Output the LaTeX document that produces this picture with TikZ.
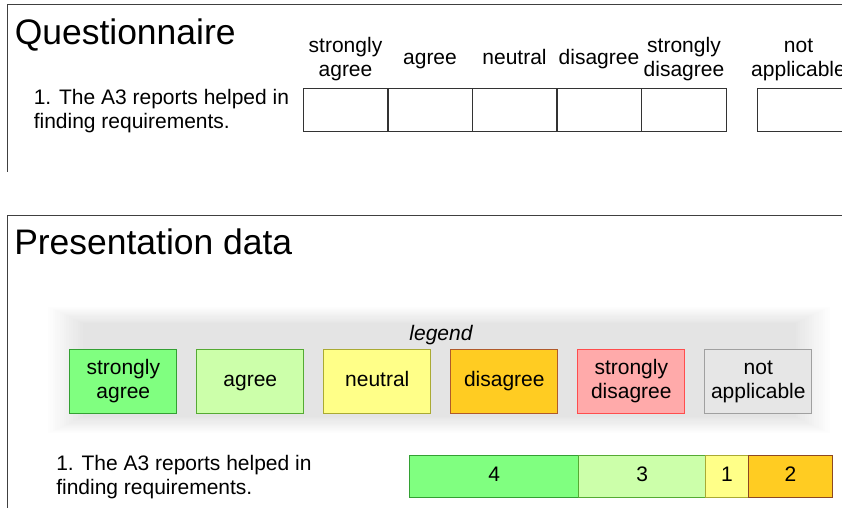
\documentclass[tikz,border=0pt]{standalone}
\usepackage{fontspec}
\setmainfont{Liberation Sans}

% answer colours
\definecolor{saFill}{HTML}{80FF80}\definecolor{saLine}{HTML}{33A033}
\definecolor{agFill}{HTML}{CCFFAA}\definecolor{agLine}{HTML}{55AA33}
\definecolor{neFill}{HTML}{FFFF88}\definecolor{neLine}{HTML}{AAAA33}
\definecolor{diFill}{HTML}{FFCC22}\definecolor{diLine}{HTML}{B05A2A}
\definecolor{sdFill}{HTML}{FFAAAA}\definecolor{sdLine}{HTML}{FF4D4D}
\definecolor{naFill}{HTML}{E6E6E6}\definecolor{naLine}{HTML}{A0A0A0}
\definecolor{frameLine}{HTML}{404040}

\tikzset{
  frame/.style={draw=frameLine, line width=0.75pt},
  title/.style={font=\fontsize{26.6pt}{30pt}\selectfont, anchor=base west, inner sep=0pt},
  body/.style={font=\fontsize{15.75pt}{18pt}\selectfont},
  % placed at the baseline of the last line
  question/.style={body, align=left, anchor=base west, inner sep=0pt},
  header/.style={body, align=center, inner sep=0pt},
  answerbox/.style={draw=black!80, line width=0.75pt},
  legendbox/.style={body, align=center, inner sep=0pt, line width=0.75pt,
    minimum width=80pt, minimum height=48pt},
  barpart/.style={body, inner sep=0pt, line width=0.75pt, anchor=west,
    minimum height=31.7pt},
}

\begin{document}
\begin{tikzpicture}[x=0.75pt, y=-0.75pt]
\useasboundingbox (0,0) rectangle (842,508);

% ---------- questionnaire panel ----------
\draw[frame] (842,4.7) -- (7.5,4.7) -- (7.5,172);
\node[title] (qtitle) at (14.5,44.5) {Questionnaire};
\node[question] (q1) at (33.5,128) {1. The A3 reports helped in\\finding requirements.};

\node[header] (hsa) at (345.5,59.7) {\strut strongly\\\strut agree};
\node[header] (hag) at (430,59.7) {\strut agree};
\node[header] (hne) at (514.5,59.7) {\strut neutral};
\node[header] (hdi) at (599,59.7) {\strut disagree};
\node[header] (hsd) at (684,59.7) {\strut strongly\\\strut disagree};
\node[header] (hna) at (798.5,59.7) {\strut not\\\strut applicable};

\foreach \xl in {303.3,388,472.3,557,641.7}
  \draw[answerbox] (\xl,88.3) rectangle ++(84.6,42.7);
\draw[answerbox] (757.7,88.3) rectangle ++(84.6,42.7);

% ---------- presentation panel ----------
\draw[frame] (842,215) -- (7.5,215) -- (7.5,508);
\node[title] (ptitle) at (14,254.3) {Presentation data};

% soft grey backdrop behind the legend, stepped from white to light grey
\foreach \i in {0,...,15} {
  \pgfmathsetmacro{\shade}{0.65*(\i+1)}
  \fill[black!\shade] (48+2.3*\i,307+1.05*\i) rectangle (830-2.3*\i,433-1.05*\i);
}

\node[body, font=\fontsize{15.75pt}{18pt}\selectfont\itshape, anchor=base, inner sep=0pt]
  (legendlabel) at (441,340) {legend};

\node[legendbox, fill=saFill, draw=saLine] (lsa) at (123.3,381.3) {\strut strongly\\\strut agree};
\node[legendbox, fill=agFill, draw=agLine] (lag) at (250.3,381.3) {\strut agree};
\node[legendbox, fill=neFill, draw=neLine] (lne) at (377.3,381.3) {\strut neutral};
\node[legendbox, fill=diFill, draw=diLine] (ldi) at (504.3,381.3) {\strut disagree};
\node[legendbox, fill=sdFill, draw=sdLine] (lsd) at (631.3,381.3) {\strut strongly\\\strut disagree};
\node[legendbox, fill=naFill, draw=naLine] (lna) at (758.3,381.3) {\strut not\\\strut applicable};

\node[question] (q1p) at (56,494) {1. The A3 reports helped in\\finding requirements.};

% answer counts, one unit = 42.33 px
\node[barpart, fill=saFill, draw=saLine, minimum width=127pt]   (b4) at (409,476.2) {\strut 4};
\node[barpart, fill=agFill, draw=agLine, minimum width=95.25pt] (b3) at (578.3,476.2) {\strut 3};
\node[barpart, fill=neFill, draw=neLine, minimum width=31.75pt] (b1) at (705.3,476.2) {\strut 1};
\node[barpart, fill=diFill, draw=diLine!80!black, minimum width=63.5pt] (b2) at (747.6,476.2) {\strut 2};
\end{tikzpicture}
\end{document}
